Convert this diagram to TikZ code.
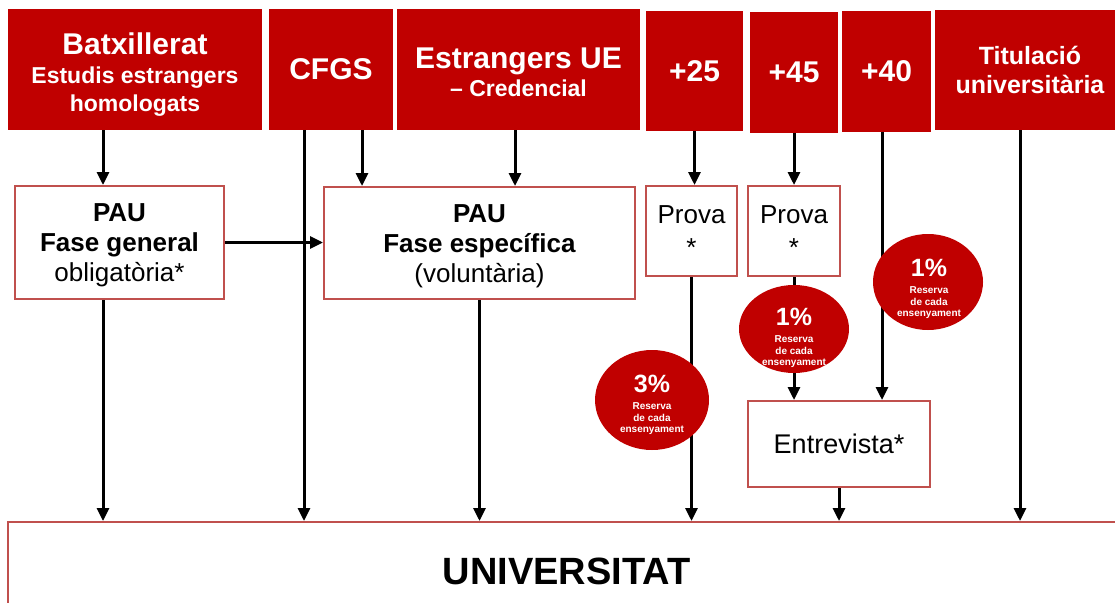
\documentclass[tikz,border=0pt]{standalone}
\usepackage{fontspec}
\setmainfont{Liberation Sans}
\usetikzlibrary{arrows.meta,shapes.geometric}
\definecolor{darkred}{HTML}{C00000}
\definecolor{boxred}{HTML}{C0504D}
\newcommand{\fsz}[2]{\fontsize{#1}{#2}\selectfont}

\begin{document}
\begin{tikzpicture}[x=1pt, y=-1pt]

    % page, 1 pt per pixel, y downwards
    \clip (0,0) rectangle (1115,602);

    % Styles
    \tikzstyle{entry}=[fill=darkred, text=white, align=center, inner sep=0pt]
    \tikzstyle{stage}=[draw=boxred, line width=2pt, fill=white, align=center, inner sep=0pt]
    \tikzstyle{quota}=[ellipse, fill=darkred, inner sep=0pt]
    \tikzstyle{quotatext}=[text=white, align=center, inner sep=0pt, font=\bfseries\fsz{10}{11.7}]
    \tikzstyle{flow}=[line width=3pt, -{Triangle[length=13pt, width=12pt]}]

    % x positions of the arrows
    \coordinate (xbat) at (103,0);
    \coordinate (xcfgs) at (304,0);
    \coordinate (xcfgspau) at (362,0);
    \coordinate (xestr) at (515,0);
    \coordinate (xtitu) at (1020,0);
    \coordinate (xforty) at (882,0);

    % access routes
    \node[entry, minimum width=254, minimum height=121, font=\bfseries\fsz{23}{28}] (bat) at (135,69.5)
        {{\fsz{30}{34}\rule{0pt}{32pt}Batxillerat}\\[1pt] Estudis estrangers\\ homologats};
    \node[entry, minimum width=124, minimum height=121, font=\bfseries\fsz{30}{34}] (cfgs) at (331,69.5)
        {CFGS};
    \node[entry, minimum width=243, minimum height=121, font=\bfseries\fsz{23}{28}] (estr) at (518.5,69.5)
        {{\fsz{30}{34}\rule{0pt}{26pt}Estrangers UE}\\ -- Credencial};
    \node[entry, minimum width=97, minimum height=120, font=\bfseries\fsz{30}{34}] (p25) at (694.5,71)
        {+25};
    \node[entry, minimum width=88, minimum height=121, font=\bfseries\fsz{30}{34}] (p45) at (794,72.5)
        {+45};
    \node[entry, minimum width=89, minimum height=121, font=\bfseries\fsz{30}{34}] (p40) at (886.5,71.5)
        {+40};
    \node[entry, minimum width=190, minimum height=120, font=\bfseries\fsz{25}{29}] (titu) at (1030,70)
        {Titulació\\ universitària};

    % tests
    \node[stage, minimum width=209, minimum height=113, font=\fsz{26}{30}] (pauG) at (119.5,242.5)
        {\textbf{\rule{0pt}{24pt}PAU}\\ \textbf{Fase general}\\ obligatòria*};
    \node[stage, minimum width=311, minimum height=112, font=\fsz{26}{30}] (pauE) at (479.5,243)
        {\textbf{\rule{0pt}{24pt}PAU}\\ \textbf{Fase específica}\\ (voluntària)};
    \node[stage, minimum width=91, minimum height=90, font=\fsz{26}{33}] (prova1) at (691.5,231)
        {Prova\\ *};
    \node[stage, minimum width=92, minimum height=90, font=\fsz{26}{33}] (prova2) at (794,231)
        {Prova\\ *};
    \node[stage, minimum width=182, minimum height=86, font=\fsz{27}{30}] (entrev) at (839,444)
        {Entrevista*};

    % destination
    \node[stage, minimum width=1117, minimum height=98, font=\bfseries\fsz{38}{42}] (univ) at (566.5,571)
        {UNIVERSITAT};

    % arrows
    \draw[flow] (xbat |- bat.south) -- (xbat |- pauG.north);
    \draw[flow] (xcfgs |- cfgs.south) -- (xcfgs |- univ.north);
    \draw[flow] (xcfgspau |- cfgs.south) -- (xcfgspau |- pauE.north);
    \draw[flow] (xestr |- estr.south) -- (xestr |- pauE.north);
    \draw[flow] (pauG.east) -- (pauG.east -| pauE.west);
    \draw[flow] (xbat |- pauG.south) -- (xbat |- univ.north);
    \draw[flow] (pauE.south) -- (pauE.south |- univ.north);
    \draw[flow] (p25.south) -- (p25.south |- prova1.north);
    \draw[flow] (prova1.south) -- (prova1.south |- univ.north);
    \draw[flow] (p45.south) -- (prova2.north);
    \draw[flow] (prova2.south) -- (prova2.south |- entrev.north);
    \draw[flow] (xforty |- p40.south) -- (xforty |- entrev.north);
    \draw[flow] (entrev.south) -- (entrev.south |- univ.north);
    \draw[flow] (xtitu |- titu.south) -- (xtitu |- univ.north);

    % reserved places
    \node[quota, minimum width=114, minimum height=100] (q3) at (652,400) {};
    \node[quotatext] (q3text) at (652,405)
        {{\fsz{25}{27}3\%}\\[5pt] Reserva\\ de cada\\ ensenyament};
    \node[quota, minimum width=110, minimum height=88] (q1a) at (794,329) {};
    \node[quotatext] (q1atext) at (794,338)
        {{\fsz{25}{27}1\%}\\[5pt] Reserva\\ de cada\\ ensenyament};
    \node[quota, minimum width=110, minimum height=96] (q1b) at (928,282) {};
    \node[quotatext] (q1btext) at (929,289)
        {{\fsz{25}{27}1\%}\\[5pt] Reserva\\ de cada\\ ensenyament};

\end{tikzpicture}
\end{document}
